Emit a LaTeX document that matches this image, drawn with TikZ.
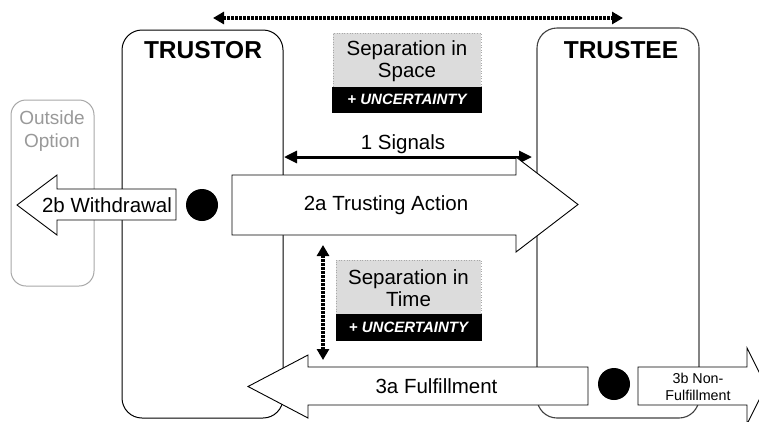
\documentclass[tikz,border=0pt]{standalone}
\usepackage{fontspec}
\setmainfont{Liberation Sans}
\usetikzlibrary{arrows.meta}
\definecolor{sepgray}{HTML}{DCDCDC}
\definecolor{optgray}{HTML}{A8A8A8}
\definecolor{opttext}{HTML}{999999}
\begin{document}
\begin{tikzpicture}[x=1pt,y=-1pt,
  big/.style={font=\fontsize{20.5}{22}\selectfont, align=center, inner sep=0},
  head/.style={font=\fontsize{24.5}{28}\selectfont\bfseries, inner sep=0},
  unc/.style={font=\fontsize{15}{17}\selectfont\bfseries\itshape, text=white, inner sep=0},
  small/.style={font=\fontsize{14.3}{17}\selectfont, align=center, inner sep=0},
  actor/.style={draw=black, line width=1pt, rounded corners=20pt, inner sep=0},
  sepbox/.style={fill=sepgray, draw=optgray, dotted, line width=0.6pt, inner sep=0},
  uncband/.style={fill=black, draw=black, inner sep=0},
  blockarrow/.style={draw=black, fill=white, line width=0.9pt, line join=miter},
  dotarrow/.style={line width=3.2pt, dash pattern=on 2.4pt off 1.6pt,
    {Triangle[length=11pt,width=12pt]}-{Triangle[length=11pt,width=12pt]}},
  sigarrow/.style={line width=3pt,
    {Triangle[length=13pt,width=12pt]}-{Triangle[length=13pt,width=12pt]}},
  blob/.style={circle, fill=black, minimum size=32pt, inner sep=0},
]
\useasboundingbox (0,0) rectangle (759,421);

% boxes
\node[draw=optgray, line width=1pt, rounded corners=15pt, inner sep=0,
      minimum width=83pt, minimum height=186pt] (outside) at (52.5,193) {};
\node[actor, minimum width=161pt, minimum height=388pt] (trustor) at (202.5,224) {};
\node[actor, draw=black!75, line width=1.1pt, minimum width=162pt, minimum height=390pt] (trustee) at (618,223) {};

\node[head] (trustorlbl) at (203,50) {TRUSTOR};
\node[head] (trusteelbl) at (621,50) {TRUSTEE};
\node[big, font=\fontsize{19}{23}\selectfont, text=opttext] (outlbl) at (52,131) {Outside\\Option};

% separation in space
\node[sepbox, minimum width=148pt, minimum height=54pt] (spacebox) at (407,60) {};
\node[uncband, minimum width=149pt, minimum height=25pt] (spaceunc) at (407,99.5) {};
\node[big, align=center] (spacelbl) at (407,61) {Separation in\\Space};
\node[unc] (spaceunclbl) at (407,99.5) {+ UNCERTAINTY};

% separation in time
\node[sepbox, minimum width=145pt, minimum height=54pt] (timebox) at (408.5,287) {};
\node[uncband, minimum width=145pt, minimum height=26pt] (timeunc) at (408.5,327) {};
\node[big, align=center] (timelbl) at (408.5,288) {Separation in\\Time};
\node[unc] (timeunclbl) at (408.5,327) {+ UNCERTAINTY};

% signals
\coordinate (sigL) at (284,157);
\coordinate (sigR) at (532,157);
\draw[sigarrow] (sigL) -- (sigR);
\node[big] (siglbl) at (403,144) {1 Signals};

% 2a trusting action
\draw[blockarrow] (232,175) -- (516,175) -- (516,157) -- (578,204.5) -- (516,252) -- (516,235) -- (232,235) -- cycle;
\node[big] (trustlbl) at (386,205) {2a Trusting Action};

% 2b withdrawal
\draw[blockarrow] (176,189) -- (57,189) -- (57,175) -- (17,205) -- (57,235) -- (57,220) -- (176,220) -- cycle;
\node[big] (withlbl) at (107,205) {2b Withdrawal};

\node[blob] (dot1) at (202,205) {};

% 3a fulfillment
\draw[blockarrow] (588,367) -- (308,367) -- (308,355) -- (248,386.5) -- (308,418) -- (308,405) -- (588,405) -- cycle;
\node[big] (fulfillbl) at (436.5,386) {3a Fulfillment};

% 3b non-fulfillment
\draw[blockarrow] (638,367) -- (747,367) -- (747,348) -- (766,386) -- (747,424) -- (747,405) -- (638,405) -- cycle;
\node[small] (nonlbl) at (698,387) {3b Non-\\Fulfillment};

\node[blob] (dot2) at (614,384) {};

% dotted separation arrows
\coordinate (spL) at (213,18);
\coordinate (spR) at (623,18);
\draw[dotarrow] (spL) -- (spR);
\coordinate (tmT) at (323,245);
\coordinate (tmB) at (323,360);
\draw[dotarrow] (tmT) -- (tmB);
\end{tikzpicture}
\end{document}
